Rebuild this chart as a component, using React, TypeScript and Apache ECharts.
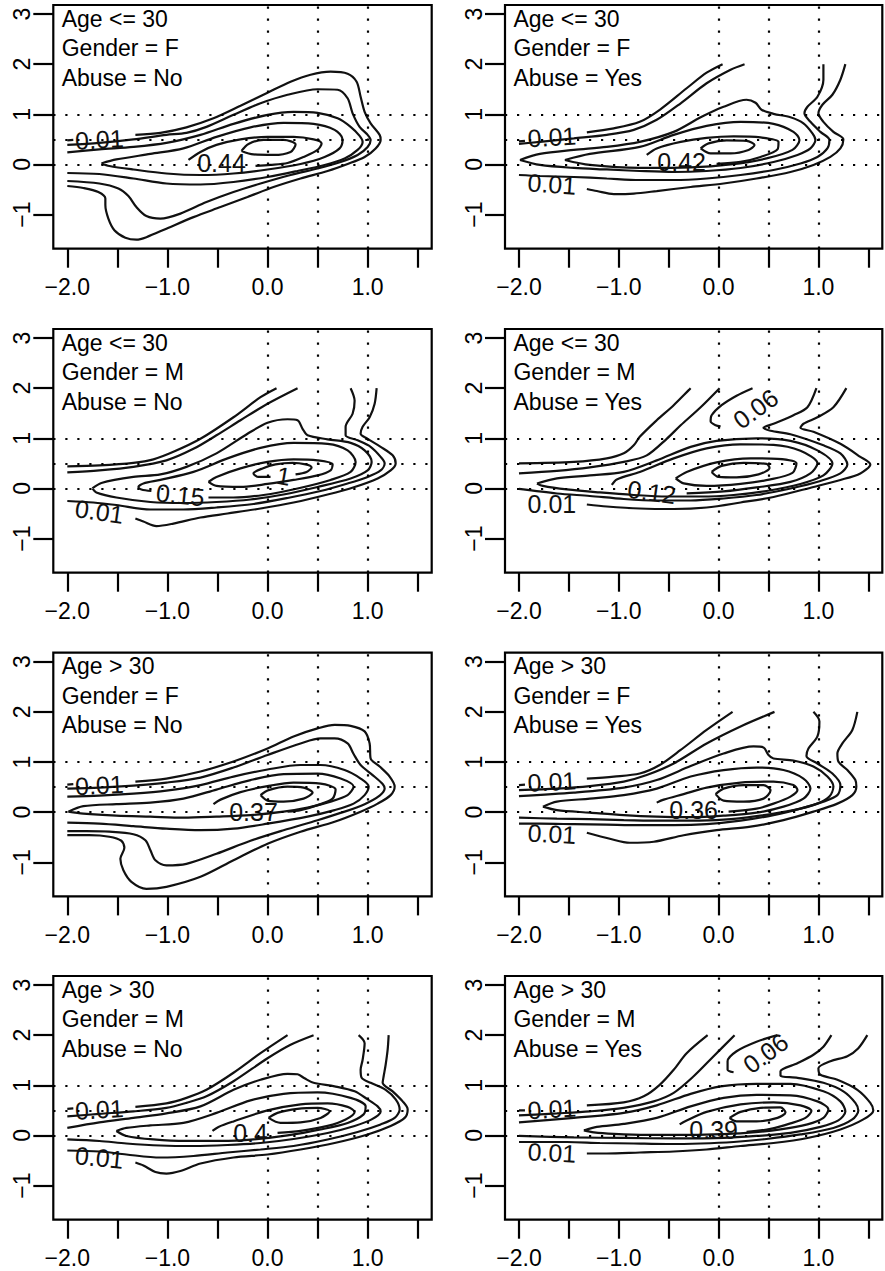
import React, { useEffect, useRef } from 'react';
import * as echarts from 'echarts';

// ---------- axes ----------
const X_TICKS = [-2, -1.5, -1, -0.5, 0, 0.5, 1, 1.5];
const X_LABELS = [-2, -1, 0, 1];
const Y_TICKS = [-1, 0, 1, 2, 3];
const GUIDE_X = [0, 0.5, 1];
const GUIDE_Y = [0, 0.5, 1];
const X_MIN = -2.14, X_MAX = 1.64;
const Y_MIN = -1.68, Y_MAX = 3.18;

// ---------- panel 1: Age <= 30, F, No ----------
const p1c1s = [[-2.0, 0.48], [-1.94, 0.49]];
const p1c1 = [[-1.32, 0.59], [-1.07, 0.63], [-0.81, 0.74], [-0.54, 0.92], [-0.27, 1.17], [0.0, 1.43], [0.23, 1.65], [0.43, 1.79], [0.63, 1.85], [0.8, 1.81], [0.89, 1.65], [0.93, 1.35], [0.97, 1.05], [1.03, 0.82], [1.12, 0.59], [1.13, 0.49], [1.08, 0.32], [0.97, 0.15], [0.8, 0.01], [0.6, -0.13], [0.33, -0.28], [0.06, -0.45], [-0.2, -0.65], [-0.47, -0.85], [-0.74, -1.05], [-1.01, -1.28], [-1.21, -1.45], [-1.31, -1.5], [-1.42, -1.46], [-1.53, -1.31], [-1.59, -1.08], [-1.62, -0.81], [-1.62, -0.68], [-1.69, -0.55], [-1.84, -0.47], [-2.0, -0.43]];
const p1c2 = [[-2.0, 0.39], [-1.68, 0.43], [-1.34, 0.5], [-1.01, 0.59], [-0.81, 0.63], [-0.61, 0.75], [-0.34, 0.99], [-0.07, 1.22], [0.2, 1.39], [0.5, 1.5], [0.7, 1.49], [0.8, 1.32], [0.85, 1.02], [0.92, 0.75], [1.0, 0.59], [1.03, 0.49], [1.0, 0.35], [0.9, 0.19], [0.73, 0.05], [0.5, -0.08], [0.23, -0.21], [-0.07, -0.38], [-0.34, -0.55], [-0.61, -0.75], [-0.87, -0.98], [-1.07, -1.08], [-1.21, -1.03], [-1.31, -0.85], [-1.39, -0.63], [-1.49, -0.48], [-1.68, -0.38], [-2.0, -0.33]];
const p1c3 = [[-2.0, 0.24], [-1.68, 0.3], [-1.34, 0.35], [-1.01, 0.43], [-0.67, 0.59], [-0.34, 0.81], [0.0, 0.99], [0.26, 1.05], [0.5, 1.03], [0.7, 0.92], [0.83, 0.75], [0.92, 0.57], [0.95, 0.45], [0.9, 0.29], [0.77, 0.12], [0.57, -0.01], [0.3, -0.13], [0.0, -0.25], [-0.34, -0.35], [-0.67, -0.4], [-1.01, -0.38], [-1.34, -0.28], [-1.68, -0.19], [-2.0, -0.17]];
const p1c4 = [[-1.66, 0.02], [-1.51, 0.1], [-1.17, 0.21], [-0.84, 0.32], [-0.51, 0.55], [-0.17, 0.74], [0.16, 0.83], [0.46, 0.81], [0.67, 0.69], [0.75, 0.5], [0.72, 0.32], [0.57, 0.15], [0.33, 0.01], [0.0, -0.1], [-0.34, -0.18], [-0.67, -0.21], [-1.01, -0.18], [-1.34, -0.1], [-1.58, -0.03], [-1.66, 0.02]];
const p1c5 = [[-0.79, 0.09], [-0.67, 0.25], [-0.51, 0.39], [-0.27, 0.5], [0.0, 0.55], [0.26, 0.55], [0.46, 0.5], [0.54, 0.42], [0.5, 0.29], [0.36, 0.15], [0.2, 0.03], [0.03, -0.01], [-0.12, -0.03]];
const p1c6 = [[-0.26, 0.27], [-0.19, 0.41], [-0.04, 0.49], [0.16, 0.49], [0.28, 0.4], [0.23, 0.25], [0.06, 0.19], [-0.14, 0.2], [-0.26, 0.27]];
const P1_LABELS = [{ text: '0.01', at: [-1.68, 0.5], angle: 3 }, { text: '0.44', at: [-0.46, 0.02], angle: 0 }];

// ---------- panel 2: Age <= 30, F, Yes ----------
const p2c1s = [[-2.0, 0.46], [-1.94, 0.47]];
const p2c1a = [[-1.32, 0.64], [-1.05, 0.72], [-0.79, 0.85], [-0.59, 1.09], [-0.32, 1.52], [-0.12, 1.83], [0.04, 2.0]];
const p2c1b = [[1.27, 2.0], [1.22, 1.69], [1.14, 1.39], [1.04, 1.19], [1.0, 1.02], [1.05, 0.85], [1.15, 0.65], [1.25, 0.5], [1.22, 0.32], [1.12, 0.15], [0.95, -0.01], [0.72, -0.15], [0.38, -0.28], [0.05, -0.38], [-0.28, -0.45], [-0.62, -0.53], [-0.85, -0.58], [-1.05, -0.59], [-1.22, -0.53], [-1.32, -0.49]];
const p2c2a = [[-2.0, 0.41], [-1.79, 0.45], [-1.45, 0.52], [-1.12, 0.59], [-0.85, 0.69], [-0.62, 0.89], [-0.38, 1.22], [-0.12, 1.62], [0.12, 1.89], [0.26, 2.0]];
const p2c2b = [[1.05, 2.0], [1.05, 1.69], [0.99, 1.35], [0.89, 1.15], [0.86, 1.02], [0.92, 0.85], [1.02, 0.65], [1.11, 0.49], [1.09, 0.32], [0.99, 0.15], [0.82, 0.02], [0.55, -0.11], [0.22, -0.21], [-0.12, -0.28], [-0.45, -0.31], [-0.79, -0.31], [-1.12, -0.28], [-1.45, -0.25], [-1.79, -0.23], [-2.0, -0.21]];
const p2c3 = [[-1.99, 0.09], [-1.79, 0.21], [-1.45, 0.29], [-1.12, 0.35], [-0.79, 0.45], [-0.45, 0.65], [-0.18, 0.94], [0.05, 1.15], [0.28, 1.29], [0.37, 1.23], [0.43, 1.09], [0.55, 1.01], [0.72, 0.94], [0.85, 0.82], [0.94, 0.62], [0.97, 0.49], [0.92, 0.32], [0.79, 0.19], [0.55, 0.05], [0.22, -0.07], [-0.12, -0.13], [-0.45, -0.15], [-0.79, -0.13], [-1.12, -0.1], [-1.45, -0.07], [-1.79, -0.01], [-1.99, 0.09]];
const p2c4 = [[-1.54, 0.09], [-1.29, 0.21], [-0.79, 0.35], [-0.45, 0.59], [-0.12, 0.77], [0.22, 0.85], [0.55, 0.81], [0.75, 0.65], [0.81, 0.49], [0.74, 0.29], [0.48, 0.12], [0.12, 0.0], [-0.28, -0.06], [-0.79, -0.07], [-1.29, -0.01], [-1.54, 0.09]];
const p2c5 = [[-0.72, 0.19], [-0.62, 0.32], [-0.38, 0.45], [-0.12, 0.53], [0.15, 0.56], [0.42, 0.54], [0.6, 0.45], [0.59, 0.3], [0.42, 0.15], [0.22, 0.05], [-0.02, 0.01]];
const p2c6 = [[-0.18, 0.32], [-0.1, 0.42], [0.08, 0.48], [0.28, 0.47], [0.36, 0.39], [0.3, 0.29], [0.12, 0.22], [-0.08, 0.22], [-0.18, 0.32]];
const P2_LABELS = [{ text: '0.01', at: [-1.67, 0.55], angle: 3 }, { text: '0.01', at: [-1.67, -0.39], angle: -4 }, { text: '0.42', at: [-0.37, 0.04], angle: 0 }];

// ---------- panel 3: Age <= 30, M, No ----------
const p3c1a = [[-2.0, 0.44], [-1.68, 0.46], [-1.34, 0.51], [-1.14, 0.58], [-0.94, 0.73], [-0.67, 0.99], [-0.34, 1.42], [-0.07, 1.82], [0.09, 2.0]];
const p3c1b = [[1.09, 2.0], [1.07, 1.69], [1.02, 1.42], [0.95, 1.23], [0.93, 1.09], [1.0, 0.99], [1.13, 0.83], [1.25, 0.66], [1.28, 0.5], [1.23, 0.36], [1.1, 0.2], [0.87, 0.03], [0.6, -0.12], [0.26, -0.28], [-0.07, -0.4], [-0.4, -0.5], [-0.67, -0.58], [-0.94, -0.7], [-1.11, -0.75], [-1.24, -0.66], [-1.32, -0.6]];
const p3c2a = [[-2.0, 0.32], [-1.68, 0.36], [-1.34, 0.43], [-1.01, 0.56], [-0.74, 0.79], [-0.51, 1.06], [-0.27, 1.36], [0.0, 1.69], [0.3, 2.0]];
const p3c2b = [[0.83, 2.0], [0.87, 1.75], [0.85, 1.49], [0.78, 1.23], [0.78, 1.06], [0.9, 0.96], [1.03, 0.83], [1.13, 0.63], [1.17, 0.5], [1.13, 0.36], [1.0, 0.23], [0.8, 0.1], [0.53, -0.05], [0.2, -0.19], [-0.14, -0.31], [-0.51, -0.38], [-0.84, -0.42], [-1.17, -0.42], [-1.51, -0.33], [-1.74, -0.28], [-2.0, -0.25]];
const p3c3 = [[-1.75, 0.0], [-1.66, 0.11], [-1.34, 0.23], [-1.07, 0.28], [-0.81, 0.43], [-0.51, 0.7], [-0.2, 1.09], [0.0, 1.31], [0.2, 1.38], [0.3, 1.36], [0.35, 1.19], [0.4, 1.06], [0.6, 0.98], [0.83, 0.91], [0.97, 0.76], [1.04, 0.53], [1.0, 0.36], [0.83, 0.2], [0.5, 0.03], [0.16, -0.12], [-0.17, -0.22], [-0.51, -0.27], [-0.84, -0.29], [-1.17, -0.27], [-1.51, -0.18], [-1.71, -0.08], [-1.75, 0.0]];
const p3c4 = [[-0.59, -0.18], [-0.34, -0.18], [-0.04, -0.13], [0.3, 0.0], [0.63, 0.17], [0.83, 0.33], [0.88, 0.53], [0.8, 0.76], [0.6, 0.89], [0.26, 0.91], [-0.07, 0.81], [-0.4, 0.6], [-0.74, 0.33], [-1.07, 0.17], [-1.24, 0.1], [-1.29, 0.03], [-1.26, -0.02], [-1.16, -0.05]];
const p3c5 = [[-0.59, 0.13], [-0.51, 0.23], [-0.27, 0.4], [0.0, 0.53], [0.26, 0.58], [0.5, 0.56], [0.65, 0.48], [0.63, 0.36], [0.5, 0.26], [0.26, 0.17], [0.0, 0.09], [-0.27, 0.03], [-0.51, 0.05], [-0.59, 0.13]];
const p3c6 = [[0.28, 0.28], [0.39, 0.33], [0.44, 0.42], [0.38, 0.48], [0.25, 0.51], [0.08, 0.48], [-0.05, 0.4], [-0.14, 0.3], [-0.09, 0.23], [0.03, 0.23]];
const P3_LABELS = [{ text: '0.01', at: [-1.68, -0.46], angle: -8 }, { text: '0.15', at: [-0.87, -0.13], angle: -6 }, { text: '1', at: [0.16, 0.25], angle: -10 }];

// ---------- panel 4: Age <= 30, M, Yes ----------
const p4c1a = [[-2.0, 0.5], [-1.45, 0.53], [-1.12, 0.6], [-0.95, 0.7], [-0.85, 0.86], [-0.79, 1.03], [-0.62, 1.36], [-0.45, 1.66], [-0.28, 2.0]];
const p4c1b = [[1.28, 2.0], [1.15, 1.62], [0.99, 1.42], [0.85, 1.29], [0.82, 1.21], [0.95, 1.13], [1.22, 0.89], [1.42, 0.63], [1.52, 0.48], [1.42, 0.3], [1.22, 0.17], [0.95, 0.03], [0.55, -0.17], [0.22, -0.28], [-0.12, -0.38], [-0.45, -0.41], [-0.79, -0.4], [-1.12, -0.36], [-1.32, -0.32]];
const p4c2a = [[-2.0, 0.3], [-1.62, 0.35], [-1.29, 0.42], [-0.95, 0.53], [-0.72, 0.66], [-0.52, 0.99], [-0.38, 1.26], [-0.18, 1.62], [0.01, 2.0]];
const p4c2b = [[0.98, 2.0], [0.89, 1.62], [0.75, 1.46], [0.55, 1.29], [0.45, 1.21], [0.52, 1.15], [0.72, 1.08], [1.05, 0.86], [1.22, 0.7], [1.29, 0.48], [1.22, 0.3], [1.02, 0.15], [0.72, 0.0], [0.38, -0.13], [0.05, -0.2], [-0.28, -0.24], [-0.62, -0.24], [-0.95, -0.21], [-1.29, -0.15], [-1.62, -0.1], [-2.0, -0.01]];
const p4c06 = [[0.34, 2.0], [0.18, 1.85], [0.03, 1.66], [-0.07, 1.46], [-0.08, 1.34], [-0.03, 1.26], [0.02, 1.24]];
const p4c3 = [[-1.82, 0.1], [-1.62, 0.2], [-1.29, 0.26], [-0.95, 0.33], [-0.62, 0.56], [-0.28, 0.83], [-0.02, 0.95], [0.38, 1.0], [0.72, 0.95], [0.99, 0.76], [1.14, 0.5], [1.05, 0.26], [0.82, 0.09], [0.48, -0.05], [0.15, -0.13], [-0.18, -0.16], [-0.52, -0.16], [-0.85, -0.13], [-1.19, -0.08], [-1.52, -0.02], [-1.76, 0.05], [-1.82, 0.1]];
const p4c4 = [[-1.07, 0.07], [-1.02, 0.18], [-0.79, 0.33], [-0.45, 0.6], [-0.12, 0.8], [0.22, 0.88], [0.55, 0.87], [0.82, 0.75], [0.99, 0.5], [0.92, 0.3], [0.72, 0.13], [0.38, 0.02], [0.05, -0.06], [-0.32, -0.1]];
const p4c5 = [[-0.43, 0.2], [-0.32, 0.33], [-0.02, 0.52], [0.32, 0.6], [0.59, 0.59], [0.78, 0.5], [0.74, 0.31], [0.52, 0.18], [0.22, 0.09], [-0.12, 0.05], [-0.35, 0.1], [-0.43, 0.2]];
const p4c6 = [[-0.07, 0.33], [0.03, 0.45], [0.25, 0.51], [0.48, 0.49], [0.51, 0.41], [0.4, 0.28], [0.18, 0.22], [0.0, 0.23], [-0.07, 0.33]];
const P4_LABELS = [{ text: '0.06', at: [0.37, 1.59], angle: 36 }, { text: '0.12', at: [-0.67, -0.07], angle: -8 }, { text: '0.01', at: [-1.67, -0.3], angle: 0 }];

// ---------- panel 5: Age > 30, F, No ----------
const p5c1s = [[-2.0, 0.55], [-1.94, 0.56]];
const p5c1 = [[-1.32, 0.61], [-1.01, 0.67], [-0.67, 0.81], [-0.34, 1.01], [0.0, 1.27], [0.26, 1.51], [0.5, 1.67], [0.67, 1.74], [0.83, 1.72], [0.97, 1.61], [1.02, 1.37], [1.03, 1.07], [1.12, 0.91], [1.22, 0.71], [1.27, 0.51], [1.23, 0.34], [1.1, 0.17], [0.93, 0.01], [0.67, -0.19], [0.33, -0.39], [0.0, -0.63], [-0.34, -0.96], [-0.67, -1.29], [-1.01, -1.49], [-1.21, -1.53], [-1.36, -1.39], [-1.44, -1.16], [-1.47, -0.93], [-1.43, -0.71], [-1.46, -0.57], [-1.58, -0.49], [-1.78, -0.46], [-2.0, -0.46]];
const p5c2 = [[-2.0, 0.47], [-1.68, 0.49], [-1.34, 0.53], [-1.01, 0.59], [-0.67, 0.69], [-0.34, 0.89], [0.0, 1.14], [0.33, 1.37], [0.53, 1.47], [0.67, 1.47], [0.8, 1.37], [0.86, 1.16], [0.93, 0.94], [1.05, 0.74], [1.15, 0.56], [1.17, 0.47], [1.12, 0.33], [0.97, 0.16], [0.77, 0.01], [0.5, -0.16], [0.16, -0.36], [-0.17, -0.57], [-0.51, -0.83], [-0.81, -1.03], [-1.01, -1.06], [-1.12, -0.96], [-1.17, -0.76], [-1.22, -0.56], [-1.34, -0.44], [-1.58, -0.39], [-1.81, -0.38], [-2.0, -0.38]];
const p5c3 = [[-2.0, 0.31], [-1.68, 0.33], [-1.34, 0.37], [-1.01, 0.43], [-0.67, 0.54], [-0.34, 0.71], [0.0, 0.85], [0.33, 0.94], [0.53, 0.94], [0.77, 0.84], [0.93, 0.67], [1.01, 0.51], [0.97, 0.34], [0.86, 0.17], [0.67, 0.04], [0.4, -0.09], [0.0, -0.23], [-0.34, -0.33], [-0.67, -0.36], [-1.01, -0.33], [-1.34, -0.28], [-1.68, -0.23], [-2.0, -0.21]];
const p5c4 = [[-1.99, 0.01], [-1.84, 0.12], [-1.51, 0.16], [-1.17, 0.19], [-0.84, 0.27], [-0.51, 0.45], [-0.17, 0.64], [0.16, 0.76], [0.5, 0.77], [0.73, 0.67], [0.86, 0.51], [0.8, 0.34], [0.63, 0.21], [0.4, 0.09], [0.16, 0.01], [-0.17, -0.06], [-0.51, -0.09], [-0.84, -0.11], [-1.17, -0.09], [-1.51, -0.07], [-1.84, -0.03], [-1.99, 0.01]];
const p5c5 = [[-0.54, 0.16], [-0.47, 0.25], [-0.27, 0.4], [0.0, 0.52], [0.26, 0.59], [0.53, 0.57], [0.68, 0.45], [0.65, 0.27], [0.5, 0.14], [0.33, 0.04], [0.2, 0.01]];
const p5c6 = [[-0.07, 0.34], [0.01, 0.44], [0.2, 0.51], [0.36, 0.49], [0.45, 0.39], [0.36, 0.27], [0.16, 0.21], [0.0, 0.23], [-0.07, 0.34]];
const P5_LABELS = [{ text: '0.01', at: [-1.68, 0.54], angle: 3 }, { text: '0.37', at: [-0.14, 0.01], angle: 0 }];

// ---------- panel 6: Age > 30, F, Yes ----------
const p6c1s = [[-2.0, 0.54], [-1.94, 0.55]];
const p6c1a = [[-1.32, 0.67], [-1.05, 0.71], [-0.79, 0.77], [-0.59, 0.94], [-0.38, 1.24], [-0.12, 1.64], [0.14, 2.0]];
const p6c1b = [[1.39, 2.0], [1.34, 1.64], [1.24, 1.37], [1.19, 1.17], [1.2, 1.01], [1.29, 0.84], [1.37, 0.64], [1.38, 0.51], [1.34, 0.34], [1.19, 0.17], [0.95, 0.01], [0.65, -0.16], [0.32, -0.29], [-0.02, -0.36], [-0.35, -0.46], [-0.65, -0.59], [-0.89, -0.61], [-1.09, -0.53], [-1.32, -0.41]];
const p6c2a = [[-2.0, 0.44], [-1.62, 0.47], [-1.29, 0.52], [-0.95, 0.61], [-0.72, 0.74], [-0.45, 0.97], [-0.12, 1.37], [0.22, 1.71], [0.56, 2.0]];
const p6c2b = [[0.95, 2.0], [1.01, 1.81], [0.99, 1.51], [0.9, 1.27], [0.88, 1.12], [0.99, 0.97], [1.14, 0.77], [1.22, 0.54], [1.19, 0.34], [1.05, 0.21], [0.82, 0.07], [0.55, -0.06], [0.22, -0.17], [-0.12, -0.24], [-0.45, -0.26], [-0.79, -0.26], [-1.12, -0.25], [-1.45, -0.24], [-1.79, -0.23], [-2.0, -0.23]];
const p6c3 = [[-2.0, 0.32], [-1.45, 0.39], [-0.95, 0.49], [-0.62, 0.64], [-0.28, 0.92], [0.05, 1.17], [0.35, 1.31], [0.45, 1.29], [0.5, 1.14], [0.55, 1.07], [0.75, 1.03], [0.95, 0.91], [1.09, 0.71], [1.15, 0.51], [1.11, 0.31], [0.99, 0.17], [0.75, 0.04], [0.38, -0.08], [0.05, -0.15], [-0.28, -0.17], [-0.62, -0.17], [-0.95, -0.16], [-1.29, -0.14], [-1.62, -0.13], [-2.0, -0.11]];
const p6c4 = [[-1.76, 0.11], [-1.62, 0.21], [-1.29, 0.27], [-0.95, 0.34], [-0.62, 0.47], [-0.28, 0.71], [0.05, 0.84], [0.38, 0.89], [0.65, 0.84], [0.85, 0.67], [0.92, 0.47], [0.85, 0.27], [0.65, 0.11], [0.38, -0.01], [0.05, -0.07], [-0.28, -0.1], [-0.62, -0.09], [-0.95, -0.06], [-1.29, -0.01], [-1.62, 0.04], [-1.76, 0.11]];
const p6c5 = [[-0.62, 0.19], [-0.55, 0.25], [-0.35, 0.36], [-0.12, 0.49], [0.22, 0.59], [0.55, 0.61], [0.75, 0.54], [0.79, 0.44], [0.72, 0.31], [0.55, 0.17], [0.38, 0.07], [0.1, 0.01]];
const p6c6 = [[-0.03, 0.36], [0.05, 0.47], [0.25, 0.54], [0.45, 0.54], [0.52, 0.43], [0.45, 0.27], [0.25, 0.21], [0.05, 0.23], [-0.03, 0.36]];
const P6_LABELS = [{ text: '0.01', at: [-1.67, 0.61], angle: 3 }, { text: '0.01', at: [-1.67, -0.43], angle: -3 }, { text: '0.36', at: [-0.25, 0.04], angle: 0 }];

// ---------- panel 7: Age > 30, M, No ----------
const p7c1s = [[-2.0, 0.53], [-1.94, 0.54]];
const p7c1a = [[-1.32, 0.57], [-1.01, 0.64], [-0.81, 0.75], [-0.61, 0.91], [-0.34, 1.25], [-0.07, 1.64], [0.2, 2.0]];
const p7c1b = [[1.21, 2.0], [1.2, 1.71], [1.18, 1.41], [1.16, 1.18], [1.15, 1.05], [1.25, 0.88], [1.35, 0.68], [1.4, 0.52], [1.37, 0.35], [1.23, 0.19], [1.0, 0.02], [0.67, -0.15], [0.33, -0.28], [0.0, -0.38], [-0.34, -0.44], [-0.67, -0.56], [-0.87, -0.71], [-1.01, -0.76], [-1.12, -0.73], [-1.24, -0.6], [-1.32, -0.54]];
const p7c2a = [[-2.0, 0.38], [-1.68, 0.43], [-1.34, 0.48], [-1.01, 0.55], [-0.81, 0.65], [-0.61, 0.78], [-0.34, 1.08], [0.0, 1.54], [0.23, 1.81], [0.46, 2.0]];
const p7c2b = [[0.91, 2.0], [0.97, 1.84], [0.95, 1.51], [0.93, 1.31], [0.94, 1.15], [1.03, 1.05], [1.18, 0.91], [1.28, 0.72], [1.32, 0.52], [1.27, 0.35], [1.13, 0.22], [0.9, 0.07], [0.6, -0.08], [0.26, -0.21], [-0.07, -0.28], [-0.4, -0.34], [-0.74, -0.41], [-1.07, -0.44], [-1.41, -0.38], [-1.68, -0.32], [-2.0, -0.3]];
const p7c3 = [[-2.0, 0.15], [-1.68, 0.26], [-1.34, 0.35], [-1.01, 0.44], [-0.67, 0.58], [-0.34, 0.91], [-0.07, 1.11], [0.2, 1.23], [0.3, 1.22], [0.37, 1.14], [0.46, 1.05], [0.67, 0.98], [0.87, 0.88], [1.0, 0.72], [1.1, 0.58], [1.13, 0.48], [1.04, 0.32], [0.87, 0.19], [0.6, 0.05], [0.26, -0.07], [-0.07, -0.15], [-0.4, -0.19], [-0.74, -0.21], [-1.07, -0.2], [-1.41, -0.16], [-1.68, -0.11], [-2.0, -0.08]];
const p7c4 = [[-1.51, 0.09], [-1.41, 0.15], [-1.17, 0.2], [-0.84, 0.25], [-0.51, 0.45], [-0.17, 0.7], [0.16, 0.83], [0.5, 0.86], [0.83, 0.75], [0.98, 0.58], [0.96, 0.42], [0.8, 0.25], [0.53, 0.12], [0.2, 0.0], [-0.14, -0.08], [-0.47, -0.11], [-0.81, -0.11], [-1.14, -0.08], [-1.41, -0.01], [-1.51, 0.09]];
const p7c5 = [[-0.55, 0.09], [-0.49, 0.17], [-0.34, 0.28], [0.0, 0.5], [0.33, 0.62], [0.6, 0.64], [0.8, 0.57], [0.87, 0.47], [0.78, 0.32], [0.6, 0.19], [0.33, 0.09], [0.1, 0.05]];
const p7c6 = [[0.01, 0.35], [0.1, 0.45], [0.3, 0.53], [0.5, 0.55], [0.62, 0.48], [0.53, 0.35], [0.33, 0.26], [0.13, 0.25], [0.01, 0.35]];
const P7_LABELS = [{ text: '0.01', at: [-1.68, 0.52], angle: 3 }, { text: '0.01', at: [-1.68, -0.44], angle: -6 }, { text: '0.4', at: [-0.17, 0.04], angle: 0 }];

// ---------- panel 8: Age > 30, M, Yes ----------
const p8c1s = [[-2.0, 0.5], [-1.94, 0.5]];
const p8c1a = [[-1.32, 0.6], [-0.95, 0.66], [-0.75, 0.78], [-0.59, 1.01], [-0.45, 1.31], [-0.32, 1.64], [-0.11, 2.0]];
const p8c1b = [[1.49, 2.0], [1.4, 1.74], [1.29, 1.58], [1.12, 1.48], [1.0, 1.34], [1.02, 1.21], [1.19, 1.11], [1.39, 0.91], [1.52, 0.65], [1.55, 0.5], [1.45, 0.32], [1.22, 0.12], [0.89, -0.05], [0.55, -0.15], [0.22, -0.21], [-0.12, -0.28], [-0.45, -0.32], [-0.79, -0.34], [-1.12, -0.36], [-1.32, -0.36]];
const p8c2a = [[-2.0, 0.4], [-1.62, 0.44], [-1.29, 0.48], [-0.95, 0.55], [-0.65, 0.68], [-0.45, 0.85], [-0.25, 1.18], [-0.05, 1.58], [0.16, 2.0]];
const p8c2b = [[1.13, 2.0], [1.05, 1.77], [0.95, 1.61], [0.79, 1.44], [0.62, 1.28], [0.62, 1.19], [0.79, 1.15], [1.05, 1.05], [1.25, 0.88], [1.37, 0.65], [1.4, 0.5], [1.34, 0.32], [1.15, 0.15], [0.82, 0.02], [0.48, -0.07], [0.15, -0.13], [-0.18, -0.16], [-0.52, -0.17], [-0.85, -0.16], [-1.19, -0.15], [-1.52, -0.13], [-2.0, -0.13]];
const p8c06 = [[0.59, 2.0], [0.38, 1.87], [0.18, 1.68], [0.09, 1.48], [0.09, 1.31], [0.15, 1.26]];
const p8c3 = [[-2.0, 0.26], [-1.45, 0.35], [-0.95, 0.45], [-0.62, 0.6], [-0.28, 0.83], [0.02, 0.98], [0.38, 1.03], [0.72, 1.03], [1.05, 0.88], [1.22, 0.68], [1.27, 0.48], [1.2, 0.3], [1.02, 0.17], [0.72, 0.05], [0.38, -0.01], [0.05, -0.05], [-0.45, -0.06], [-0.95, -0.05], [-1.45, -0.04], [-2.0, -0.01]];
const p8c4 = [[-1.35, 0.1], [-1.22, 0.17], [-0.95, 0.23], [-0.62, 0.35], [-0.28, 0.58], [0.05, 0.75], [0.38, 0.81], [0.72, 0.8], [0.99, 0.68], [1.1, 0.52], [1.05, 0.35], [0.89, 0.22], [0.62, 0.12], [0.28, 0.05], [-0.05, 0.02], [-0.38, 0.01], [-0.72, 0.01], [-1.05, 0.03], [-1.25, 0.06], [-1.35, 0.1]];
const p8c5 = [[-0.39, 0.22], [-0.33, 0.29], [-0.12, 0.47], [0.22, 0.62], [0.55, 0.66], [0.82, 0.6], [0.93, 0.49], [0.87, 0.35], [0.72, 0.24], [0.52, 0.13], [0.28, 0.07]];
const p8c6 = [[0.11, 0.35], [0.22, 0.47], [0.42, 0.55], [0.62, 0.56], [0.67, 0.46], [0.59, 0.35], [0.38, 0.28], [0.18, 0.28], [0.11, 0.35]];
const P8_LABELS = [{ text: '0.06', at: [0.47, 1.64], angle: 36 }, { text: '0.01', at: [-1.67, 0.53], angle: 3 }, { text: '0.01', at: [-1.67, -0.34], angle: -3 }, { text: '0.39', at: [-0.05, 0.11], angle: 0 }];

const PANELS = [
  { strata: ['Age <= 30', 'Gender = F', 'Abuse = No'], lines: [p1c1s, p1c1, p1c2, p1c3, p1c4, p1c5, p1c6], labels: P1_LABELS },
  { strata: ['Age <= 30', 'Gender = F', 'Abuse = Yes'], lines: [p2c1s, p2c1a, p2c1b, p2c2a, p2c2b, p2c3, p2c4, p2c5, p2c6], labels: P2_LABELS },
  { strata: ['Age <= 30', 'Gender = M', 'Abuse = No'], lines: [p3c1a, p3c1b, p3c2a, p3c2b, p3c3, p3c4, p3c5, p3c6], labels: P3_LABELS },
  { strata: ['Age <= 30', 'Gender = M', 'Abuse = Yes'], lines: [p4c1a, p4c1b, p4c2a, p4c2b, p4c06, p4c3, p4c4, p4c5, p4c6], labels: P4_LABELS },
  { strata: ['Age > 30', 'Gender = F', 'Abuse = No'], lines: [p5c1s, p5c1, p5c2, p5c3, p5c4, p5c5, p5c6], labels: P5_LABELS },
  { strata: ['Age > 30', 'Gender = F', 'Abuse = Yes'], lines: [p6c1s, p6c1a, p6c1b, p6c2a, p6c2b, p6c3, p6c4, p6c5, p6c6], labels: P6_LABELS },
  { strata: ['Age > 30', 'Gender = M', 'Abuse = No'], lines: [p7c1s, p7c1a, p7c1b, p7c2a, p7c2b, p7c3, p7c4, p7c5, p7c6], labels: P7_LABELS },
  { strata: ['Age > 30', 'Gender = M', 'Abuse = Yes'], lines: [p8c1s, p8c1a, p8c1b, p8c2a, p8c2b, p8c06, p8c3, p8c4, p8c5, p8c6], labels: P8_LABELS },
];

// ---------- layout (pixels) ----------
const COL_LEFT = [53.3, 505];
const COL_WIDTH = [378.4, 377.3];
const ROW_TOP = [5, 329, 652.7, 976];
const ROW_HEIGHT = 243.7;
const FONT = '"Liberation Sans", Arial, Helvetica, sans-serif';
const INK = '#111';

const fmtX = (v: number) => (v < 0 ? '\u2212' : '') + Math.abs(v).toFixed(1);
const fmtY = (v: number) => (v < 0 ? '\u2212' : '') + String(Math.abs(v));

export default function App() {
  const ref = useRef<HTMLDivElement>(null);
  useEffect(() => {
    const chart = echarts.init(ref.current!, null, { renderer: 'svg' });
    const grid: any[] = [];
    const xAxis: any[] = [];
    const yAxis: any[] = [];
    const series: any[] = [];
    const graphic: any[] = [];

    PANELS.forEach((p, i) => {
      const row = Math.floor(i / 2);
      const col = i % 2;
      grid.push({
        left: COL_LEFT[col], top: ROW_TOP[row], width: COL_WIDTH[col], height: ROW_HEIGHT,
        show: true, borderColor: '#000', borderWidth: 2.2, backgroundColor: 'transparent',
      });
      xAxis.push({
        gridIndex: i, type: 'value', min: X_MIN, max: X_MAX, position: 'bottom',
        axisLine: { show: false, onZero: false }, splitLine: { show: false },
        axisTick: { show: true, customValues: X_TICKS, length: 19, lineStyle: { color: '#000', width: 2.2 } },
        axisLabel: { customValues: X_LABELS, formatter: fmtX, margin: 27, fontSize: 23, color: '#000', fontFamily: FONT },
      });
      yAxis.push({
        gridIndex: i, type: 'value', min: Y_MIN, max: Y_MAX, position: 'left',
        axisLine: { show: false, onZero: false }, splitLine: { show: false },
        axisTick: { show: true, customValues: Y_TICKS, length: 20, lineStyle: { color: '#000', width: 2.2 } },
        axisLabel: { customValues: Y_TICKS, formatter: fmtY, rotate: 90, margin: 20, fontSize: 23, color: '#000', fontFamily: FONT },
      });
      p.lines.forEach((pts, j) => {
        const s: any = {
          type: 'line', xAxisIndex: i, yAxisIndex: i, data: pts,
          showSymbol: false, symbol: 'none', smooth: 0.3, silent: true,
          lineStyle: { color: INK, width: 2.2 }, z: 3,
        };
        if (j === 0) {
          s.markLine = {
            silent: true, symbol: ['none', 'none'], label: { show: false },
            lineStyle: { type: [2.2, 9.8], color: '#000', width: 2.2 },
            emphasis: { disabled: true },
            data: [...GUIDE_X.map((v) => ({ xAxis: v })), ...GUIDE_Y.map((v) => ({ yAxis: v }))],
          };
        }
        series.push(s);
      });
      series.push({
        type: 'scatter', xAxisIndex: i, yAxisIndex: i, symbolSize: 1, silent: true, z: 4,
        itemStyle: { color: 'transparent' },
        label: {
          show: true, position: 'inside', fontSize: 25, color: INK, fontFamily: FONT,
          textBorderWidth: 0, opacity: 1,
        },
        labelLayout: { hideOverlap: false },
        data: p.labels.map((l) => ({
          value: l.at,
          label: { formatter: l.text, rotate: l.angle, fontSize: 25, color: INK },
        })),
      });
      p.strata.forEach((t, k) => {
        graphic.push({
          type: 'text', x: COL_LEFT[col] + 8.4, y: ROW_TOP[row] + 13.7 + k * 29.5,
          style: { text: t, fontSize: 23, fontFamily: FONT, fill: '#000', align: 'left', verticalAlign: 'middle' },
        });
      });
    });

    chart.setOption({ animation: false, grid, xAxis, yAxis, series, graphic });
    return () => chart.dispose();
  }, []);
  return <div ref={ref} style={{ position: 'absolute', left: 0, top: 0, width: 885, height: 1271, background: '#fff' }} />;
}
